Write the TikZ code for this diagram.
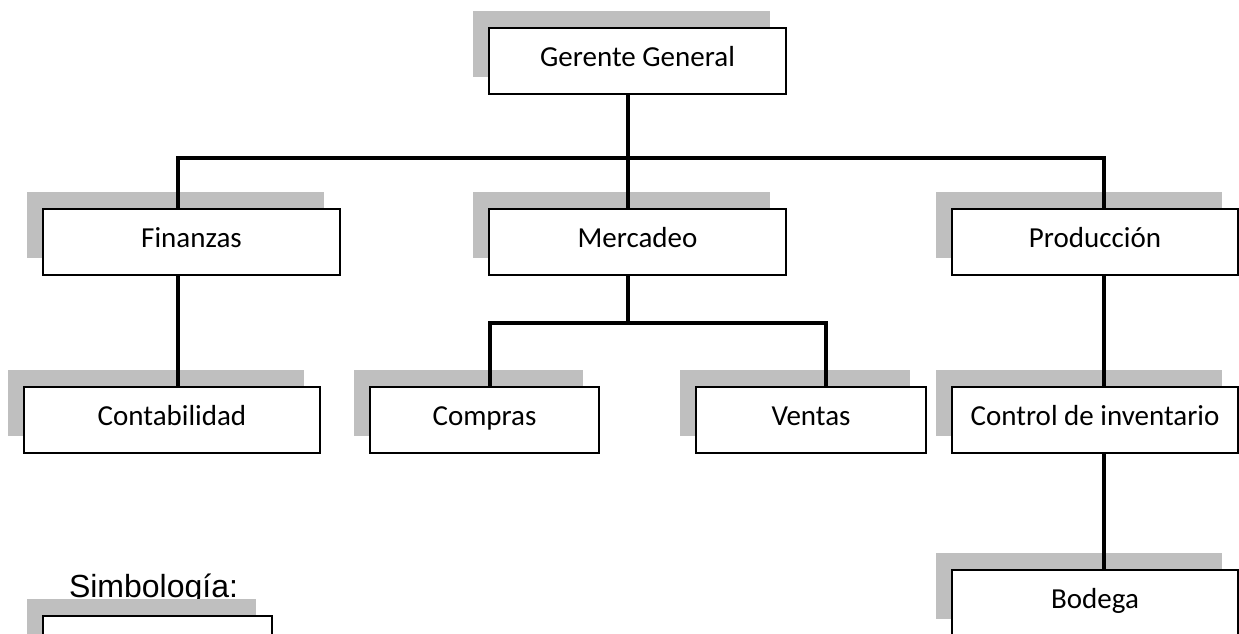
\documentclass[tikz,border=0pt]{standalone}
\usepackage{fontspec}
\usetikzlibrary{shadows}
\newfontfamily\boxfont{Carlito}
\newfontfamily\legendfont{Liberation Sans}
\definecolor{shadowgray}{HTML}{BFBFBF}
\tikzset{
  unit/.style={draw=black, line width=1.8pt, fill=white, outer sep=0pt, inner sep=0pt,
    minimum height=66pt, text height=20pt, text depth=10pt,
    font=\boxfont\fontsize{29}{34}\selectfont,
    general shadow={fill=shadowgray, shadow xshift=-16pt, shadow yshift=17pt}},
  conn/.style={draw=black, line width=4.2pt, line join=miter}
}
\begin{document}
\begin{tikzpicture}[x=1pt, y=-1pt]
\path[use as bounding box] (0,0) rectangle (1239,633);
\clip (0,0) rectangle (1239,633);

% organisation units
\node[unit, minimum width=297pt] (gerente) at (637.5,61) {Gerente General};
\node[unit, minimum width=297pt] (fin) at (191.5,242) {Finanzas};
\node[unit, minimum width=297pt] (merc) at (637.5,242) {Mercadeo};
\node[unit, minimum width=286pt] (prod) at (1095,242) {Producción};
\node[unit, minimum width=296pt] (contab) at (172,420) {Contabilidad};
\node[unit, minimum width=229pt] (compras) at (484.5,420) {Compras};
\node[unit, minimum width=230pt] (ventas) at (811,420) {Ventas};
\node[unit, minimum width=286pt] (control) at (1095,420) {Control de inventario};
\node[unit, minimum width=286pt] (bodega) at (1095,603) {Bodega};

% legend
\node[anchor=base, inner sep=0pt, font=\legendfont\fontsize{32}{38}\selectfont] (leyenda) at (153.5,597) {Simbología:};
\node[unit, minimum width=229pt] (muestra) at (157.5,649) {};

% bus junctions
\coordinate (bus1) at (628,158);
\coordinate (bus2) at (628,323);

% connectors
\draw[conn] ([xshift=-9.5pt]gerente.south) -- ([xshift=-9.5pt]merc.north);
\draw[conn] ([xshift=-13.5pt]fin.north) |- (bus1) -| ([xshift=9pt]prod.north);
\draw[conn] ([xshift=-13.5pt]fin.south) -- ([xshift=6pt]contab.north);
\draw[conn] ([xshift=-9.5pt]merc.south) -- (bus2);
\draw[conn] ([xshift=5.5pt]compras.north) |- (bus2) -| ([xshift=15pt]ventas.north);
\draw[conn] ([xshift=9pt]prod.south) -- ([xshift=9pt]control.north);
\draw[conn] ([xshift=9pt]control.south) -- ([xshift=9pt]bodega.north);
\end{tikzpicture}
\end{document}
